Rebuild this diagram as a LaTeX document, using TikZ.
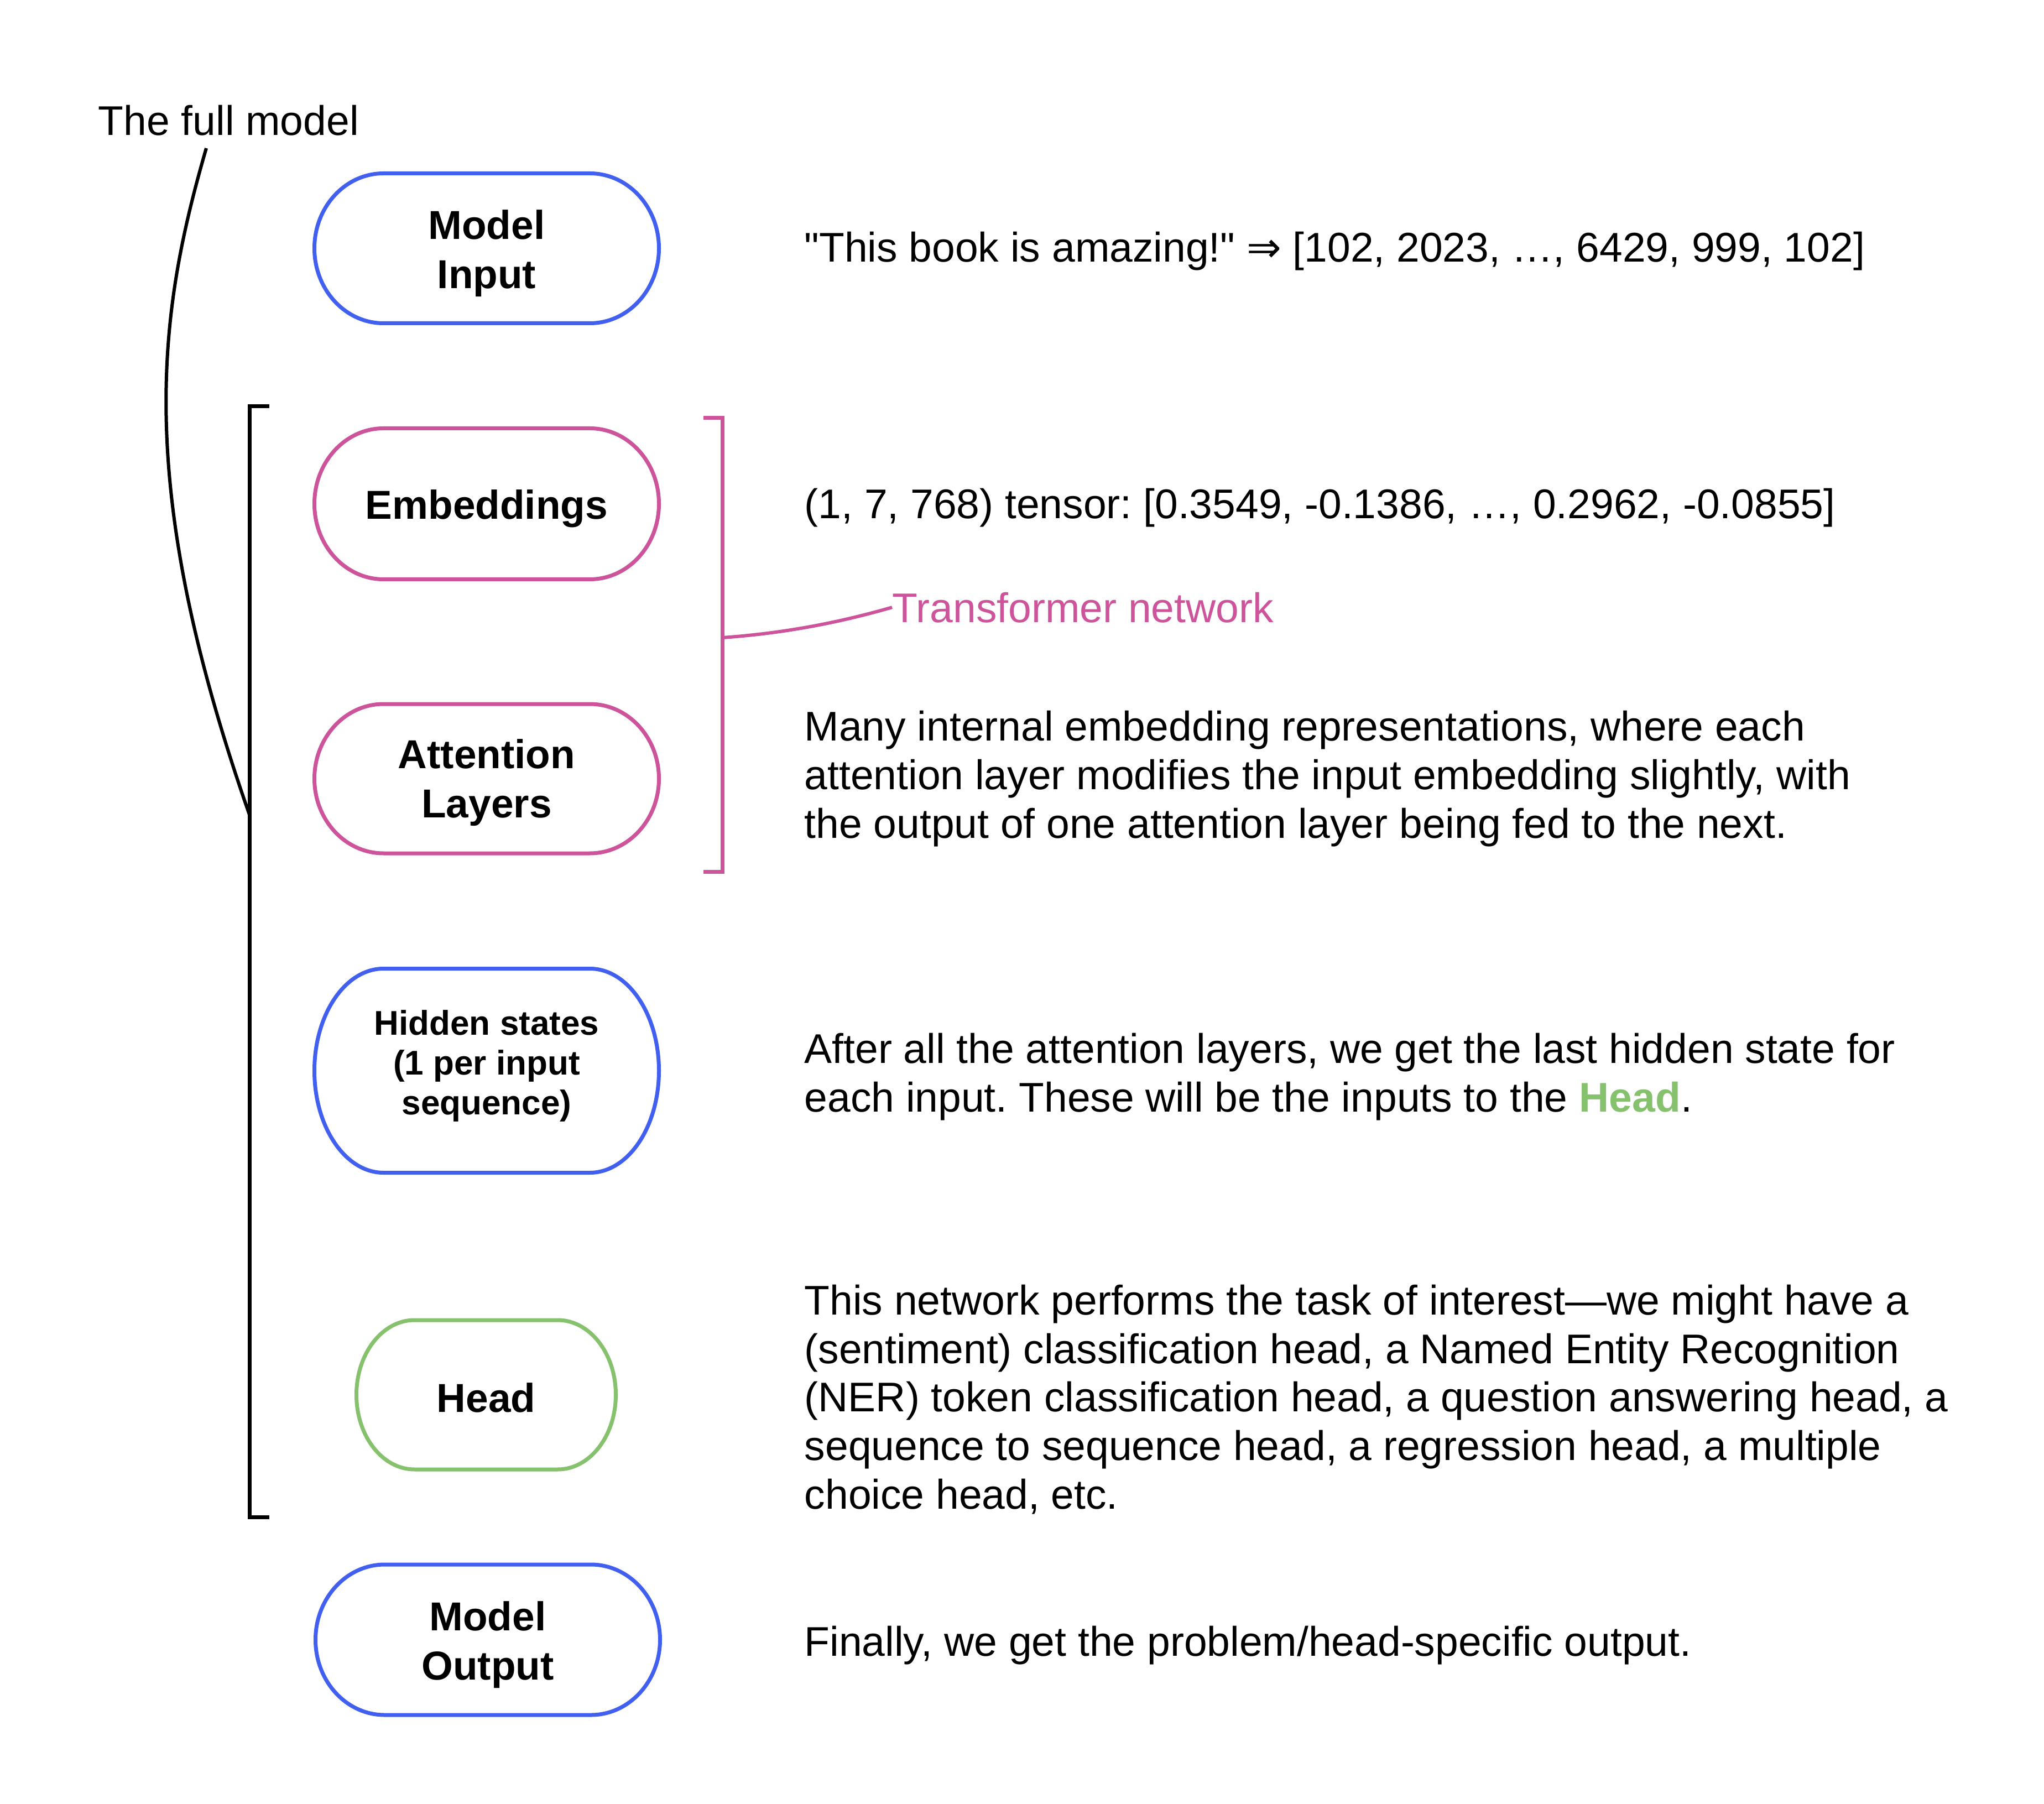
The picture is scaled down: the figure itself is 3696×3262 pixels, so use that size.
\documentclass[tikz,border=0pt]{standalone}
\usepackage{fontspec}
\usetikzlibrary{calc}
\setmainfont{Liberation Sans}[Ligatures=TeXOff]
\newfontfamily\djv{DejaVu Sans}
\frenchspacing
\definecolor{cblue}{RGB}{65,96,240}
\definecolor{cpink}{RGB}{205,84,155}
\definecolor{cgreen}{RGB}{134,193,110}
\tikzset{
  boxtxt/.style={font=\fontsize{18.25pt}{22.25pt}\selectfont\bfseries, align=center, inner sep=0pt},
  smalltxt/.style={font=\fontsize{15.5pt}{18pt}\selectfont\bfseries, align=center, inner sep=0pt},
  desc/.style={font=\fontsize{18.75pt}{21.9pt}\selectfont, align=left, anchor=base west, inner sep=0pt},
  outl/.style={line width=1.75pt},
  brk/.style={line width=1.75pt},
}
% #1 cx, #2 cy, #3 w, #4 h, #5 rx, #6 style
\newcommand\stadium[6]{%
  \draw[#6] ({#1-#3/2+#5},{#2-#4/2}) -- ({#1+#3/2-#5},{#2-#4/2})
    arc[start angle=-90,end angle=90,x radius=#5,y radius=#4/2]
    -- ({#1-#3/2+#5},{#2+#4/2})
    arc[start angle=90,end angle=270,x radius=#5,y radius=#4/2] -- cycle;
}
\begin{document}
\begin{tikzpicture}[x=0.25pt,y=-0.25pt]
\useasboundingbox (0,0) rectangle (3696,3262);
\fill[white] (0,0) rectangle (3696,3262);

% boxes
\stadium{880}{449}{623}{271}{125}{outl,cblue}
\node[boxtxt] (inp) at (880,458) {Model\\Input};

\stadium{880}{911}{623}{273}{125}{outl,cpink}
\node[boxtxt] (emb) at (880,920) {Embeddings};

\stadium{880}{1408}{623}{270}{125}{outl,cpink}
\node[boxtxt] (att) at (880,1415) {Attention\\Layers};

\stadium{880}{1936}{623}{369}{125}{outl,cblue}
\node[smalltxt] (hid) at (880,1927) {Hidden states\\(1 per input\\sequence)};

\stadium{879}{2522}{469}{270}{105}{outl,cgreen}
\node[boxtxt] (head) at (879,2527) {Head};

\stadium{882}{2965}{623}{272}{125}{outl,cblue}
\node[boxtxt] (out) at (882,2974) {Model\\Output};

% full model label and bracket
\node[desc] (full) at (177,245) {The full model};
\coordinate (fullend) at (373,268);
\coordinate (bktop) at (451,735);
\coordinate (bkbot) at (451,2743);
\coordinate (bkmid) at (451,1473);
\draw[brk] ($(bktop)+(36,0)$) -- (bktop) -- (bkbot) -- ($(bkbot)+(36,0)$);
\draw[line width=1.5pt] (fullend) .. controls (286,568) and (241,873) .. (bkmid);

% transformer bracket
\coordinate (ptop) at (1306,756);
\coordinate (pbot) at (1306,1576);
\coordinate (pmid) at (1306,1153);
\draw[brk,cpink] ($(ptop)+(-34,0)$) -- (ptop) -- (pbot) -- ($(pbot)+(-34,0)$);
\node[desc,text=cpink] (tn) at (1613,1125) {Transformer network};
\draw[line width=1.5pt,cpink] (pmid) .. controls (1420,1145) and (1520,1125) .. (tn.west);

% descriptions (anchor is the baseline of the last line)
\node[desc] (d1) at (1454,474) {"This book is amazing!" {\djv ⇒} [102, 2023, …, 6429, 999, 102]};
\node[desc] (d2) at (1454,938) {(1, 7, 768) tensor: [0.3549, -0.1386, …, 0.2962, -0.0855]};
\node[desc] (d3) at (1454,1515) {Many internal embedding representations, where each\\attention layer modifies the input embedding slightly, with\\the output of one attention layer being fed to the next.};
\node[desc] (d4) at (1454,2010) {After all the attention layers, we get the last hidden state for\\each input. These will be the inputs to the {\bfseries\color{cgreen}Head}.};
\node[desc] (d5) at (1454,2728) {This network performs the task of interest—we might have a\\(sentiment) classification head, a Named Entity Recognition\\(NER) token classification head, a question answering head, a\\sequence to sequence head, a regression head, a multiple\\choice head, etc.};
\node[desc] (d6) at (1454,2994) {Finally, we get the problem/head-specific output.};
\end{tikzpicture}
\end{document}
